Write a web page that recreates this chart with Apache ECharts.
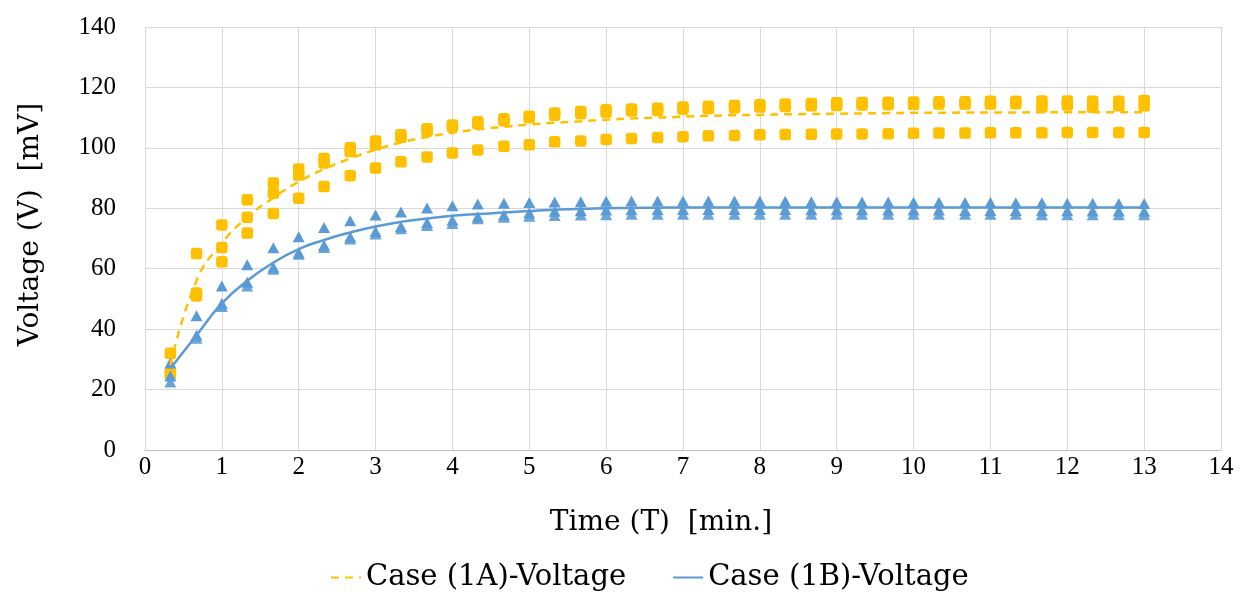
<!DOCTYPE html>
<html>
<head>
<meta charset="utf-8">
<title>Voltage vs Time</title>
<script src="https://cdn.jsdelivr.net/npm/echarts@6/dist/echarts.min.js"></script>
<style>
  html, body { margin: 0; padding: 0; background: #ffffff; }
  #chart { width: 1244px; height: 597px; }
</style>
</head>
<body>
<div id="chart"></div>
<script>
// Sampling times (minutes), every 20 seconds
const times = [0.33, 0.67, 1, 1.33, 1.67, 2, 2.33, 2.67, 3, 3.33, 3.67, 4, 4.33, 4.67, 5,
  5.33, 5.67, 6, 6.33, 6.67, 7, 7.33, 7.67, 8, 8.33, 8.67, 9, 9.33, 9.67, 10,
  10.33, 10.67, 11, 11.33, 11.67, 12, 12.33, 12.67, 13];

// Case (1A) measured voltages (mV), three runs
const caseA1 = [32, 65, 74.5, 82.8, 88.4, 93, 96.5, 100, 102.3, 104.3, 106.3, 107.6, 108.6, 109.6, 110.5,
  111.5, 112, 112.6, 112.9, 113.1, 113.5, 113.8, 114, 114.3, 114.5, 114.7, 114.9, 115, 115.1, 115.2,
  115.3, 115.3, 115.4, 115.4, 115.5, 115.5, 115.4, 115.4, 115.7];
const caseA2 = [25.5, 52, 67, 77, 85, 91, 95, 98.8, 101, 103.5, 105.5, 107, 108, 109, 110,
  110.8, 111.3, 111.8, 112.2, 112.4, 112.8, 113, 113.2, 113.5, 113.7, 113.9, 114, 114.2, 114.3, 114.4,
  114.5, 114.5, 114.5, 114.6, 113.5, 114.2, 113.4, 113.9, 113.9];
const caseA3 = [25, 51, 62.3, 71.8, 78.3, 83.3, 87.2, 90.8, 93.3, 95.4, 97, 98.3, 99.3, 100.5, 101,
  102, 102.3, 102.8, 103.1, 103.4, 103.7, 104, 104.1, 104.3, 104.4, 104.5, 104.6, 104.6, 104.7, 104.8,
  104.9, 104.9, 105, 105, 105, 105.1, 105.1, 105.1, 105.1];

// Case (1B) measured voltages (mV), three runs
const caseB1 = [28.8, 44.4, 54.3, 61.3, 66.9, 70.6, 73.6, 75.9, 77.8, 78.8, 80.1, 80.8, 81.4, 81.7, 81.9,
  82.1, 82.2, 82.3, 82.4, 82.4, 82.4, 82.4, 82.4, 82.3, 82.3, 82.2, 82.2, 82.1, 82.1, 82,
  82, 81.9, 81.9, 81.8, 81.8, 81.7, 81.7, 81.6, 81.6];
const caseB2 = [24.5, 38, 48.5, 55.5, 60.5, 65.3, 67.8, 70.5, 72.3, 74, 75.2, 76, 77.2, 77.8, 78.4,
  79, 79.2, 79.4, 79.5, 79.5, 79.6, 79.6, 79.6, 79.6, 79.6, 79.5, 79.5, 79.5, 79.4, 79.4,
  79.4, 79.3, 79.3, 79.3, 79.2, 79.2, 79.1, 79.1, 79];
const caseB3 = [22.5, 37, 47.5, 54.3, 59.8, 64.8, 67, 69.8, 71.5, 73.2, 74.3, 75, 76.5, 77, 77.4,
  77.6, 77.8, 77.9, 78, 78, 78, 78, 78, 78, 78, 78, 78, 78, 78, 78,
  78, 78, 78, 78, 77.9, 77.9, 77.9, 77.9, 77.9];

// Trend curves (mV) at the same times
const trendA = [28, 56, 68.5, 77, 83.5, 88.8, 93, 96.5, 99.4, 101.8, 103.6, 105, 106.1, 107, 107.7,
  108.3, 108.8, 109.3, 109.7, 110, 110.3, 110.6, 110.8, 110.9, 111.1, 111.2, 111.3, 111.4, 111.5, 111.6,
  111.6, 111.7, 111.7, 111.7, 111.8, 111.8, 111.8, 111.8, 111.8];
const trendB = [27, 38, 48.5, 56, 62, 66.5, 69.5, 72, 74, 75.5, 76.6, 77.5, 78.1, 78.6, 79.1,
  79.5, 79.8, 80, 80.1, 80.2, 80.3, 80.3, 80.3, 80.3, 80.3, 80.3, 80.3, 80.3, 80.3, 80.3,
  80.3, 80.3, 80.3, 80.3, 80.3, 80.3, 80.3, 80.3, 80.3];

const xTicks = [0, 14, 1];     // min, max, interval
const yTicks = [0, 140, 20];

const YELLOW = '#FFC000';
const BLUE = '#5B9BD5';
const TICK_FONT = 'Liberation Serif';
const TITLE_FONT = 'DejaVu Serif';

const pairs = (ys) => times.map((t, i) => [t, ys[i]]);

function scatter(ys, symbol, color) {
  return {
    type: 'scatter',
    data: pairs(ys),
    symbol: symbol,
    symbolSize: symbol === 'triangle' ? [12, 11] : 11.5,
    itemStyle: { color: color, opacity: 1 },
    silent: true,
    legendHoverLink: false,
    z: 2
  };
}

const chart = echarts.init(document.getElementById('chart'), null, { renderer: 'canvas' });
chart.setOption({
  animation: false,
  backgroundColor: '#ffffff',
  textStyle: { fontFamily: TICK_FONT, color: '#000' },
  grid: { left: 145, right: 23, top: 27, bottom: 147, containLabel: false },
  xAxis: {
    type: 'value',
    min: xTicks[0], max: xTicks[1], interval: xTicks[2],
    name: 'Time (T)  [min.]',
    nameLocation: 'middle',
    nameGap: 59,
    nameTextStyle: { fontFamily: TITLE_FONT, fontSize: 28, color: '#000', padding: [0, 44, 0, 0] },
    axisLine: { show: true, lineStyle: { color: '#BFBFBF', width: 1 } },
    axisTick: { show: false },
    axisLabel: { fontFamily: TICK_FONT, fontSize: 25, color: '#000', margin: 5 },
    splitLine: { show: true, lineStyle: { color: '#D9D9D9', width: 1 } }
  },
  yAxis: {
    type: 'value',
    min: yTicks[0], max: yTicks[1], interval: yTicks[2],
    name: 'Voltage (V)  [mV]',
    nameLocation: 'middle',
    nameGap: 100,
    nameTextStyle: { fontFamily: TITLE_FONT, fontSize: 28, color: '#000', padding: [0, 0, 0, 28] },
    axisLine: { show: false },
    axisTick: { show: false },
    axisLabel: { fontFamily: TICK_FONT, fontSize: 25, color: '#000', margin: 29 },
    splitLine: { show: true, lineStyle: { color: '#D9D9D9', width: 1 } }
  },
  legend: {
    bottom: 0,
    left: 325,
    itemGap: 46,
    itemWidth: 30,
    itemHeight: 14,
    itemStyle: { opacity: 0 },
    textStyle: { fontFamily: TITLE_FONT, fontSize: 29, color: '#000' },
    data: ['Case (1A)-Voltage', 'Case (1B)-Voltage']
  },
  series: [
    scatter(caseA3, 'roundRect', YELLOW),
    scatter(caseA2, 'roundRect', YELLOW),
    scatter(caseA1, 'roundRect', YELLOW),
    scatter(caseB3, 'triangle', '#6AA5DA'),
    scatter(caseB2, 'triangle', BLUE),
    scatter(caseB1, 'triangle', BLUE),
    {
      name: 'Case (1A)-Voltage',
      type: 'line',
      data: pairs(trendA),
      smooth: true,
      symbol: 'none',
      lineStyle: { color: YELLOW, width: 2.5, type: [8, 6] },
      itemStyle: { color: YELLOW },
      z: 3
    },
    {
      name: 'Case (1B)-Voltage',
      type: 'line',
      data: pairs(trendB),
      smooth: true,
      symbol: 'none',
      lineStyle: { color: BLUE, width: 2.5 },
      itemStyle: { color: BLUE },
      z: 3
    }
  ]
});
</script>
</body>
</html>
